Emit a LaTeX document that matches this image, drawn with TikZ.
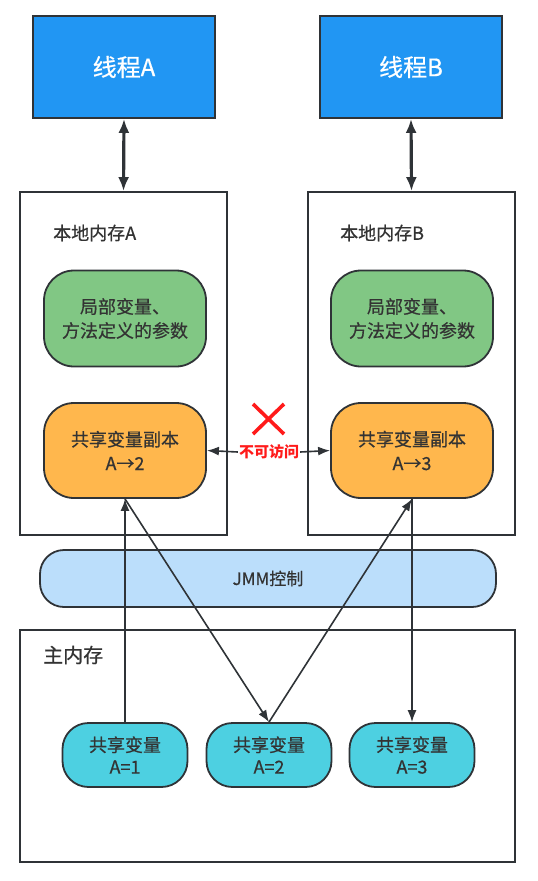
\documentclass[tikz,border=0pt]{standalone}
\usepackage{fontspec}
\setmainfont{Noto Sans CJK SC}[UprightFeatures={FakeBold=0.6}]
\usetikzlibrary{arrows.meta}
\definecolor{threadblue}{HTML}{2196F3}
\definecolor{greenfill}{HTML}{81C784}
\definecolor{orangefill}{HTML}{FFB74D}
\definecolor{cyanfill}{HTML}{4DD0E1}
\definecolor{jmmfill}{HTML}{BBDEFB}
\definecolor{linecol}{HTML}{2F3337}
\definecolor{txtcol}{HTML}{333333}
\definecolor{xred}{HTML}{FF1A1A}
\begin{document}
\begin{tikzpicture}[x=1pt,y=-1pt,
  box/.style={draw=linecol, line width=1.8pt},
  thread/.style={box, fill=threadblue, minimum width=182pt, minimum height=102pt, text=white, font=\fontsize{24}{28}\selectfont},
  membox/.style={box, fill=white, minimum width=207pt, minimum height=343pt},
  pill/.style={box, rounded corners=30pt, minimum width=162pt, minimum height=96pt, align=center, text=txtcol, font=\fontsize{18}{24}\selectfont},
  varbox/.style={box, fill=cyanfill, rounded corners=26pt, minimum width=125pt, minimum height=64pt, align=center, text=txtcol, font=\fontsize{18}{22}\selectfont},
  lbl/.style={anchor=west, text=txtcol, inner sep=0pt},
  conn/.style={draw=linecol, line width=1.6pt, -{Latex[length=12pt,width=9pt]}},
  dconn/.style={draw=linecol, line width=3.2pt, {Latex[length=14pt,width=11pt]}-{Latex[length=14pt,width=11pt]}}
]
\useasboundingbox (0,0) rectangle (538,881);

% threads
\node[thread] (thA) at (124,67) {线程A};
\node[thread] (thB) at (411,67) {线程B};

% local memories
\node[membox] (locA) at (123.5,363.5) {};
\node[membox] (locB) at (411.5,363.5) {};
\node[lbl, font=\fontsize{18}{20}\selectfont] (locAlbl) at (53,233) {本地内存A};
\node[lbl, font=\fontsize{18}{20}\selectfont] (locBlbl) at (340,233) {本地内存B};

\node[pill, fill=greenfill] (grA) at (125,318.5) {局部变量、\\方法定义的参数};
\node[pill, fill=greenfill] (grB) at (412,318.5) {局部变量、\\方法定义的参数};
\node[pill, fill=orangefill, minimum height=95pt] (orA) at (125,450.5) {共享变量副本\\A→2};
\node[pill, fill=orangefill, minimum height=95pt] (orB) at (412,450.5) {共享变量副本\\A→3};

% JMM
\node[box, fill=jmmfill, rounded corners=24pt, minimum width=456pt, minimum height=57pt, text=txtcol, font=\fontsize{17}{20}\selectfont] (jmm) at (268,578.5) {JMM控制};

% main memory
\node[box, fill=white, minimum width=495pt, minimum height=232pt] (mainm) at (267.5,746) {};
\node[lbl, font=\fontsize{20}{22}\selectfont] (mainlbl) at (43,655) {主内存};

\node[varbox] (v1) at (125,755) {共享变量\\A=1};
\node[varbox] (v2) at (269,755) {共享变量\\A=2};
\node[varbox] (v3) at (412,755) {共享变量\\A=3};

% no access
\node[text=xred, inner sep=1pt, font=\bfseries\fontsize{15}{16}\selectfont] (na) at (269,452) {不可访问};
\draw[xred, line width=3.6pt] (253,404) -- (284,434) (253,434) -- (284,404);
\draw[conn] (na.west) -- (orA.east);
\draw[conn] (na.east) -- (orB.west);

% thread <-> local
\draw[dconn] (thA.south) -- (locA.north);
\draw[dconn] (thB.south) -- (locB.north);

% main <-> copies
\draw[conn] (v1.north) -- (orA.south);
\draw[conn] (orA.south) -- (v2.north);
\draw[conn] (v2.north) -- (orB.south);
\draw[conn] (orB.south) -- (v3.north);
\end{tikzpicture}
\end{document}
